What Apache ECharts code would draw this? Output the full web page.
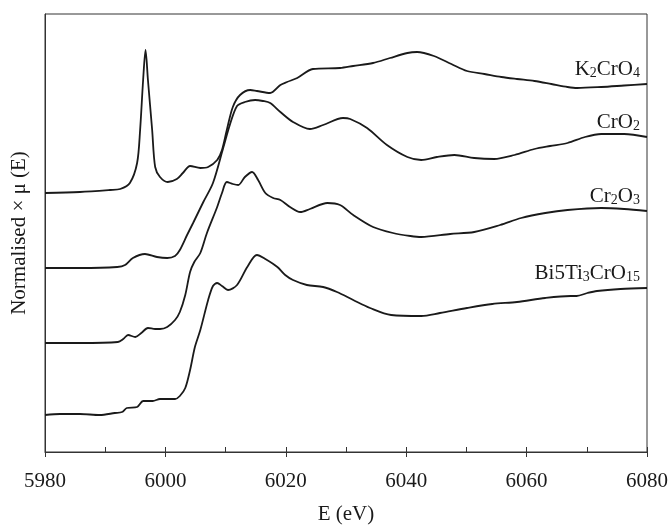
<!DOCTYPE html>
<html>
<head>
<meta charset="utf-8">
<script src="https://cdn.jsdelivr.net/npm/echarts@6/dist/echarts.min.js"></script>
<style>
  html, body { margin: 0; padding: 0; background: #fff; }
  #xanes { width: 668px; height: 526px; }
</style>
</head>
<body>
<div id="xanes"></div>
<script>
// energy ticks (eV)
var xTicks = [5980, 6000, 6020, 6040, 6060, 6080];

// spectra, stacked with offsets: [E (eV), normalised mu + offset]
var k2cro4 = [
  [5980, 2.59], [5985.8, 2.60], [5990.8, 2.62], [5992.5, 2.63], [5994.1, 2.69], [5995.3, 2.89],
  [5995.8, 3.22], [5996.3, 3.72], [5996.7, 4.02], [5997.1, 3.72], [5997.8, 3.22], [5998.3, 2.85],
  [5999.1, 2.75], [6000.4, 2.70], [6001.9, 2.73], [6002.9, 2.79], [6004.1, 2.86], [6005.8, 2.84],
  [6007.1, 2.85], [6008.6, 2.92], [6009.4, 3.02], [6010.2, 3.22], [6011.2, 3.45], [6012.4, 3.57],
  [6014.1, 3.62], [6015.2, 3.61], [6017.4, 3.59], [6019.1, 3.67], [6020.2, 3.70], [6021.9, 3.74],
  [6024.5, 3.83], [6029.0, 3.84], [6031.2, 3.86], [6034.5, 3.89], [6037.3, 3.94], [6040.2, 3.99],
  [6041.8, 4.00], [6044.6, 3.96], [6047.5, 3.88], [6050.1, 3.81], [6053.0, 3.78], [6055.8, 3.75],
  [6058.4, 3.73], [6061.3, 3.71], [6064.1, 3.68], [6066.8, 3.65], [6068.4, 3.64], [6072.4, 3.65],
  [6076.2, 3.665], [6080, 3.68]
];
var cro2 = [
  [5980, 1.84], [5985.8, 1.84], [5992.0, 1.85], [5993.3, 1.87], [5994.6, 1.94], [5996.6, 1.98],
  [5998.6, 1.95], [6000.3, 1.94], [6001.6, 1.96], [6002.4, 2.02], [6003.6, 2.17], [6004.6, 2.29],
  [6006.3, 2.50], [6007.9, 2.69], [6009.6, 3.04], [6010.7, 3.27], [6011.9, 3.46], [6013.2, 3.50],
  [6014.9, 3.52], [6016.2, 3.51], [6017.4, 3.49], [6019.1, 3.40], [6021.2, 3.30], [6024.0, 3.23],
  [6026.2, 3.27], [6029.5, 3.34], [6030.7, 3.33], [6033.5, 3.24], [6036.8, 3.07], [6040.2, 2.95],
  [6042.5, 2.92], [6045.1, 2.95], [6048.0, 2.97], [6051.3, 2.94], [6054.6, 2.93], [6058.0, 2.97],
  [6061.3, 3.03], [6063.9, 3.06], [6066.8, 3.09], [6069.7, 3.15], [6072.4, 3.18], [6076.2, 3.18],
  [6080, 3.15]
];
var cr2o3 = [
  [5980, 1.09], [5985.8, 1.09], [5992.1, 1.10], [5993.0, 1.13], [5993.8, 1.17], [5995.0, 1.15],
  [5996.0, 1.19], [5997.1, 1.24], [5998.3, 1.23], [5999.1, 1.23], [6000.3, 1.25], [6001.6, 1.32],
  [6002.4, 1.40], [6003.3, 1.57], [6004.1, 1.80], [6004.8, 1.90], [6005.8, 1.99], [6006.9, 2.19],
  [6008.6, 2.45], [6009.4, 2.59], [6010.2, 2.70], [6011.2, 2.68], [6012.1, 2.67], [6013.2, 2.75],
  [6014.4, 2.80], [6015.4, 2.72], [6016.6, 2.59], [6017.9, 2.54], [6019.1, 2.52], [6020.7, 2.45],
  [6022.4, 2.40], [6024.0, 2.43], [6026.9, 2.49], [6029.0, 2.47], [6031.2, 2.37], [6034.5, 2.25],
  [6037.8, 2.19], [6040.7, 2.16], [6042.5, 2.15], [6047.3, 2.18], [6051.3, 2.20], [6055.6, 2.27],
  [6059.1, 2.34], [6063.1, 2.39], [6066.8, 2.42], [6072.4, 2.44], [6076.2, 2.43], [6080, 2.41]
];
var bi5ti3cro15 = [
  [5980, 0.37], [5982.5, 0.38], [5985.8, 0.38], [5989.1, 0.37], [5991.6, 0.39], [5992.8, 0.40],
  [5993.6, 0.44], [5995.3, 0.45], [5996.3, 0.51], [5997.9, 0.51], [5999.1, 0.53], [6001.6, 0.53],
  [6002.4, 0.56], [6003.3, 0.64], [6004.1, 0.82], [6004.9, 1.05], [6005.8, 1.22], [6007.1, 1.52],
  [6007.9, 1.66], [6008.6, 1.69], [6009.4, 1.66], [6010.4, 1.62], [6011.9, 1.67], [6013.6, 1.85],
  [6015.2, 1.97], [6016.6, 1.93], [6018.6, 1.85], [6019.9, 1.77], [6021.2, 1.72], [6023.5, 1.67],
  [6026.2, 1.65], [6028.5, 1.60], [6031.2, 1.52], [6034.0, 1.44], [6037.5, 1.37], [6042.5, 1.36],
  [6045.6, 1.39], [6050.1, 1.44], [6054.3, 1.48], [6058.4, 1.50], [6063.1, 1.54], [6067.3, 1.56],
  [6068.3, 1.56], [6070.1, 1.59], [6071.7, 1.61], [6075.6, 1.63], [6080, 1.64]
];

var names = ['K{s|2}CrO{s|4}', 'CrO{s|2}', 'Cr{s|2}O{s|3}', 'Bi5Ti{s|3}CrO{s|15}'];
var spectra = [k2cro4, cro2, cr2o3, bi5ti3cro15];

var serif = '"Liberation Serif", "DejaVu Serif", serif';
var ink = '#1a1a1a';

var dom = document.getElementById('xanes');
var myChart = echarts.init(dom);

var series = [];
for (var i = 0; i < spectra.length; i++) {
  series.push({
    type: 'line',
    data: spectra[i],
    showSymbol: false,
    smooth: 0.3,
    lineStyle: { color: ink, width: 1.8 },
    endLabel: {
      show: true,
      formatter: names[i],
      align: 'right',
      verticalAlign: 'bottom',
      distance: -7,
      padding: [0, 0, 4, 0],
      color: ink,
      fontFamily: serif,
      fontSize: 21,
      lineHeight: 22,
      rich: {
        s: { fontFamily: serif, fontSize: 14, lineHeight: 10, verticalAlign: 'bottom', color: ink }
      }
    }
  });
}

var option = {
  backgroundColor: '#fff',
  animation: false,
  grid: {
    left: 45, right: 21, top: 14, bottom: 74,
    outerBoundsMode: 'none',
    containLabel: false,
    show: true, borderColor: '#333', borderWidth: 1, backgroundColor: 'transparent'
  },
  xAxis: [
    {
      type: 'value',
      min: xTicks[0],
      max: xTicks[xTicks.length - 1],
      interval: 20,
      name: 'E (eV)',
      nameLocation: 'middle',
      nameGap: 52,
      nameTextStyle: { fontFamily: serif, fontSize: 21, color: ink },
      axisLine: { show: true, lineStyle: { color: '#333', width: 1 } },
      axisTick: { show: true, inside: false, length: 5, lineStyle: { color: '#333' } },
      axisLabel: {
        margin: 19, fontFamily: serif, fontSize: 21, color: ink,
        formatter: function (v) { return String(v); }
      },
      splitLine: { show: false }
    },
    {
      type: 'value',
      min: xTicks[0],
      max: xTicks[xTicks.length - 1],
      interval: 20,
      position: 'bottom',
      axisLine: { show: false },
      axisTick: { show: true, inside: true, length: 5, lineStyle: { color: '#333' } },
      minorTick: { show: true, splitNumber: 2, length: 5, lineStyle: { color: '#333' } },
      axisLabel: { show: false },
      splitLine: { show: false }
    }
  ],
  yAxis: {
    type: 'value',
    min: 0,
    max: 4.38,
    name: 'Normalised \u00d7 \u03bc (E)',
    nameLocation: 'middle',
    nameGap: 15,
    nameTextStyle: { fontFamily: serif, fontSize: 21, color: ink },
    axisLine: { show: true, lineStyle: { color: '#333' } },
    axisTick: { show: false },
    axisLabel: { show: false },
    splitLine: { show: false }
  },
  series: series
};

if (option && typeof option === 'object') {
  myChart.setOption(option, true);
}
</script>
</body>
</html>
